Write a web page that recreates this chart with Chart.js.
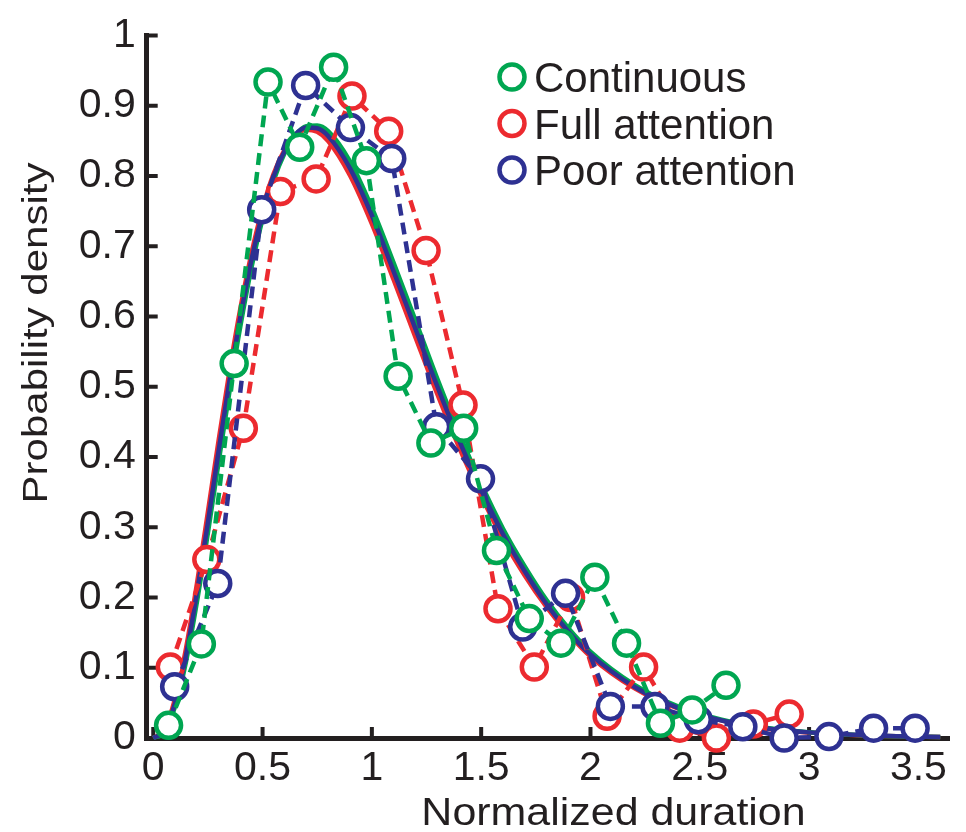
<!DOCTYPE html>
<html>
<head>
<meta charset="utf-8">
<title>Probability density</title>
<script src="https://cdn.jsdelivr.net/npm/chart.js@4/dist/chart.umd.min.js"></script>
<style>
  html, body { margin: 0; padding: 0; background: #fff; }
  #grafico { display: block; }
</style>
</head>
<body>
<canvas id="grafico" width="966" height="832"></canvas>
<script>
// Series
const nombresSeries = ["Continuous", "Full attention", "Poor attention"];

const xContinuo = [0.07, 0.22, 0.37, 0.525, 0.67, 0.825, 0.975, 1.12, 1.27, 1.42, 1.57, 1.72, 1.865, 2.02, 2.165, 2.32, 2.465, 2.62];
const yContinuo = [0.018, 0.134, 0.533, 0.934, 0.841, 0.955, 0.822, 0.515, 0.42, 0.441, 0.267, 0.17, 0.135, 0.229, 0.135, 0.021, 0.04, 0.075];

const xPlena = [0.078, 0.245, 0.412, 0.582, 0.745, 0.909, 1.077, 1.248, 1.417, 1.577, 1.743, 1.909, 2.076, 2.243, 2.408, 2.576, 2.745, 2.909];
const yPlena = [0.101, 0.254, 0.441, 0.778, 0.796, 0.914, 0.864, 0.694, 0.474, 0.184, 0.101, 0.2, 0.031, 0.101, 0.014, 0.0, 0.02, 0.034];

const xPobre = [0.098, 0.295, 0.496, 0.697, 0.902, 1.091, 1.296, 1.497, 1.69, 1.886, 2.091, 2.295, 2.493, 2.697, 2.886, 3.091, 3.295, 3.485];
const yPobre = [0.073, 0.22, 0.752, 0.929, 0.869, 0.825, 0.443, 0.369, 0.158, 0.206, 0.045, 0.045, 0.026, 0.016, 0.0, 0.002, 0.014, 0.014];

// Curvas ajustadas (líneas continuas)
const xAjuste = [0, 0.05, 0.1, 0.15, 0.2, 0.25, 0.3, 0.35, 0.4, 0.45, 0.5, 0.55, 0.6, 0.65, 0.7, 0.75, 0.8, 0.9, 1.0, 1.1, 1.2, 1.3, 1.4, 1.5, 1.6, 1.7, 1.8, 1.9, 2.0, 2.2, 2.4, 2.6, 2.8, 3.0, 3.2, 3.4, 3.6];
const ajusteContinuo = [0, 0.008, 0.045, 0.109, 0.194, 0.292, 0.395, 0.496, 0.589, 0.671, 0.739, 0.793, 0.832, 0.858, 0.871, 0.872, 0.864, 0.821, 0.755, 0.676, 0.594, 0.511, 0.433, 0.362, 0.298, 0.244, 0.196, 0.156, 0.123, 0.076, 0.045, 0.026, 0.0145, 0.0083, 0.0047, 0.0026, 0.0015];
const ajustePlena = [0, 0.012, 0.056, 0.128, 0.22, 0.322, 0.426, 0.525, 0.614, 0.691, 0.754, 0.803, 0.837, 0.858, 0.866, 0.863, 0.85, 0.801, 0.732, 0.652, 0.57, 0.489, 0.413, 0.345, 0.283, 0.231, 0.186, 0.148, 0.116, 0.071, 0.042, 0.025, 0.0135, 0.0078, 0.0044, 0.0024, 0.0014];
const ajustePobre = [0, 0.01, 0.05, 0.118, 0.207, 0.307, 0.411, 0.511, 0.602, 0.682, 0.747, 0.799, 0.835, 0.859, 0.869, 0.868, 0.857, 0.811, 0.744, 0.664, 0.582, 0.5, 0.423, 0.353, 0.29, 0.237, 0.19, 0.151, 0.119, 0.073, 0.043, 0.025, 0.014, 0.008, 0.0045, 0.0025, 0.0014];

const ticksX = [0, 0.5, 1, 1.5, 2, 2.5, 3, 3.5];
const ticksY = [0, 0.1, 0.2, 0.3, 0.4, 0.5, 0.6, 0.7, 0.8, 0.9, 1];

const verde = "#00a651";
const rojo  = "#ec2a2f";
const azul  = "#2e3192";
const colorEje = "#231f20";
const fuente = '"Liberation Sans", Arial, Helvetica, sans-serif';

function puntos(xs, ys) {
  return xs.map((v, i) => ({ x: v, y: ys[i] }));
}

function serieMedida(label, xs, ys, color, orden) {
  return {
    label, data: puntos(xs, ys), showLine: true, clip: false, order: orden,
    borderColor: color, borderWidth: 4.5, borderDash: [12, 7],
    pointRadius: 12.5, pointHoverRadius: 12.5, pointBorderWidth: 4.5,
    pointBorderColor: color, pointBackgroundColor: "#fff", backgroundColor: "#fff"
  };
}

function serieAjuste(ys, color, orden) {
  return {
    label: "", data: puntos(xAjuste, ys), showLine: true, clip: false, order: orden,
    borderColor: color, borderWidth: 4.5, pointRadius: 0, pointHoverRadius: 0,
    cubicInterpolationMode: "monotone"
  };
}

// Marcas hacia adentro, leyenda y títulos de ejes
const extras = {
  id: "extras",
  beforeDatasetsDraw(chart) {
    const { ctx, chartArea: a, scales: { x, y } } = chart;
    ctx.save();
    ctx.strokeStyle = colorEje;
    ctx.lineWidth = 4;
    ctx.beginPath();
    x.ticks.forEach(t => {
      const px = x.getPixelForValue(t.value);
      ctx.moveTo(px, a.bottom); ctx.lineTo(px, a.bottom - 11);
    });
    y.ticks.forEach(t => {
      const py = y.getPixelForValue(t.value);
      ctx.moveTo(a.left, py); ctx.lineTo(a.left + 11, py);
    });
    ctx.stroke();
    ctx.restore();
  },
  afterDraw(chart) {
    const ctx = chart.ctx;
    const colores = [verde, rojo, azul];
    ctx.save();
    nombresSeries.forEach((nombre, i) => {
      const cy = 77 + i * 46.5;
      ctx.beginPath();
      ctx.arc(512, cy, 12.5, 0, Math.PI * 2);
      ctx.fillStyle = "#fff";
      ctx.fill();
      ctx.lineWidth = 4.5;
      ctx.strokeStyle = colores[i];
      ctx.stroke();
      ctx.fillStyle = colorEje;
      ctx.font = "42px " + fuente;
      ctx.textAlign = "left";
      ctx.textBaseline = "alphabetic";
      ctx.fillText(nombre, 534, cy + 15);
    });

    ctx.fillStyle = colorEje;
    ctx.textAlign = "center";
    ctx.textBaseline = "alphabetic";

    ctx.save();
    ctx.translate(613.5, 825);
    ctx.scale(1.13, 1);
    ctx.font = "38px " + fuente;
    ctx.fillText("Normalized duration", 0, 0);
    ctx.restore();

    ctx.save();
    ctx.translate(46.5, 333);
    ctx.rotate(-Math.PI / 2);
    ctx.scale(1.2, 1);
    ctx.font = "35px " + fuente;
    ctx.fillText("Probability density", 0, 0);
    ctx.restore();

    ctx.restore();
  }
};

const formato = v => String(+v.toFixed(2));

new Chart(document.getElementById("grafico"), {
  type: "scatter",
  data: {
    datasets: [
      serieMedida(nombresSeries[0], xContinuo, yContinuo, verde, 0),
      serieMedida(nombresSeries[2], xPobre, yPobre, azul, 1),
      serieMedida(nombresSeries[1], xPlena, yPlena, rojo, 2),
      serieAjuste(ajustePobre, azul, 3),
      serieAjuste(ajusteContinuo, verde, 4),
      serieAjuste(ajustePlena, rojo, 5)
    ]
  },
  options: {
    responsive: false,
    devicePixelRatio: 1,
    animation: false,
    events: [],
    layout: { padding: { top: 35, right: 12, left: 0, bottom: 0 } },
    plugins: { legend: { display: false }, tooltip: { enabled: false } },
    scales: {
      x: {
        type: "linear", min: -0.03, max: 3.64,
        grid: { display: true, drawOnChartArea: false, drawTicks: false },
        border: { display: true, width: 5, color: colorEje },
        ticks: { color: colorEje, font: { family: fuente, size: 41 }, padding: 6, includeBounds: false, autoSkip: false, maxRotation: 0, callback: formato },
        afterBuildTicks: s => { s.ticks = ticksX.map(v => ({ value: v })); },
        afterFit: s => { s.height = 94; }
      },
      y: {
        type: "linear", min: 0, max: 1,
        grid: { display: true, drawOnChartArea: false, drawTicks: false },
        border: { display: true, width: 5, color: colorEje },
        ticks: { color: colorEje, font: { family: fuente, size: 41 }, padding: 11, autoSkip: false, callback: formato },
        afterBuildTicks: s => { s.ticks = ticksY.map(v => ({ value: v })); },
        afterFit: s => { s.width = 146.7; }
      }
    }
  },
  plugins: [extras]
});
</script>
</body>
</html>
